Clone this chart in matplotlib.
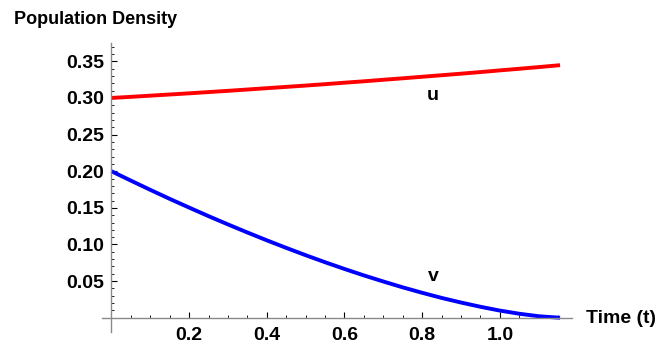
import matplotlib.pyplot as plt
from matplotlib.ticker import FixedLocator

# time grid and the two population densities
t = [0.0, 0.05, 0.10, 0.15, 0.20, 0.25, 0.30, 0.35, 0.40, 0.45, 0.50, 0.55,
     0.60, 0.65, 0.70, 0.75, 0.80, 0.85, 0.90, 0.95, 1.00, 1.05, 1.10, 1.155]
u = [0.3000, 0.3015, 0.3031, 0.3047, 0.3063, 0.3080, 0.3097, 0.3115, 0.3133,
     0.3151, 0.3169, 0.3188, 0.3208, 0.3227, 0.3248, 0.3268, 0.3289, 0.3310,
     0.3331, 0.3353, 0.3376, 0.3398, 0.3421, 0.3447]
v = [0.2000, 0.1872, 0.1746, 0.1623, 0.1504, 0.1387, 0.1274, 0.1164, 0.1057,
     0.0954, 0.0854, 0.0758, 0.0666, 0.0578, 0.0495, 0.0415, 0.0341, 0.0271,
     0.0208, 0.0150, 0.0098, 0.0055, 0.0021, 0.0]

xticks = [0.2, 0.4, 0.6, 0.8, 1.0]
yticks = [0.05, 0.10, 0.15, 0.20, 0.25, 0.30, 0.35]

plt.rcParams['font.family'] = ['Liberation Sans', 'DejaVu Sans']
plt.rcParams['font.weight'] = 'bold'

fig = plt.figure(figsize=(6.65, 3.5), dpi=100)
ax = fig.add_axes([0.1529, 0.0523, 0.7068, 0.8249])

ax.plot(t, u, color='#ff0000', lw=2.8, solid_capstyle='butt')
ax.plot(t, v, color='#0000ff', lw=2.8, solid_capstyle='butt')

ax.set_xlim(-0.025, 1.185)
ax.set_ylim(-0.019, 0.375)

# axes crossing at the origin, Mathematica style
for side in ['top', 'right']:
    ax.spines[side].set_visible(False)
ax.spines['left'].set_position(('data', 0))
ax.spines['bottom'].set_position(('data', 0))
for side in ['left', 'bottom']:
    ax.spines[side].set_color('#8a8a8a')
    ax.spines[side].set_linewidth(1.0)

ax.xaxis.set_major_locator(FixedLocator(xticks))
ax.xaxis.set_minor_locator(FixedLocator([i * 0.05 for i in range(0, 24)]))
ax.yaxis.set_major_locator(FixedLocator(yticks))
ax.yaxis.set_minor_locator(FixedLocator([i * 0.01 for i in range(0, 38)]))
ax.set_xticklabels(['%.1f' % x for x in xticks])
ax.set_yticklabels(['%.2f' % y for y in yticks])

ax.tick_params(which='major', direction='in', length=4.5, width=0.8,
               color='black', labelsize=14)
ax.tick_params(which='minor', direction='in', length=2.5, width=0.6,
               color='black')
ax.tick_params(axis='x', which='major', pad=6.5)
ax.tick_params(axis='y', which='major', pad=5.5)

# curve labels
ax.text(0.828, 0.304, 'u', fontsize=14, fontweight='bold', ha='center', va='center')
ax.text(0.828, 0.056, 'v', fontsize=14, fontweight='bold', ha='center', va='center')

# axis titles
fig.text(0.021, 0.943, 'Population Density', fontsize=13, fontweight='bold',
         ha='left', va='center')
fig.text(0.881, 0.0914, 'Time (t)', fontsize=14, fontweight='bold',
         ha='left', va='center')

fig.savefig('out.png', dpi=100)
